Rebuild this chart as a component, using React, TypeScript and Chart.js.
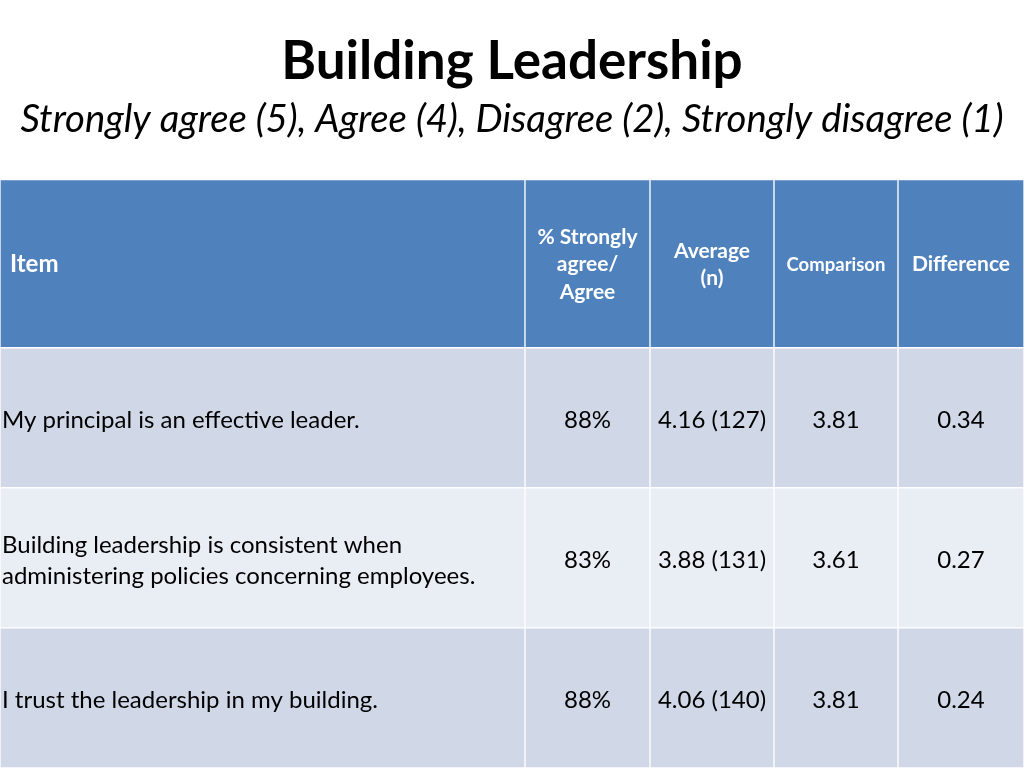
import React, { useEffect, useRef } from "react";
import { Chart, registerables } from "chart.js";

Chart.register(...registerables);

// ---- content ----
const titleText = "Building Leadership";
const subtitleText = "Strongly agree (5), Agree (4), Disagree (2), Strongly disagree (1)";
const headerLines: string[][] = [
  ["Item"],
  ["% Strongly", "agree/", "Agree"],
  ["Average", "(n)"],
  ["Comparison"],
  ["Difference"],
];
const items = [
  "My principal is an effective leader.",
  "Building leadership is consistent when administering policies concerning employees.",
  "I trust the leadership in my building.",
];
const pctAgree = [88, 83, 88];
const averages = [4.16, 3.88, 4.06];
const counts = [127, 131, 140];
const comparisons = [3.81, 3.61, 3.81];
const differences = [0.34, 0.27, 0.24];

// ---- layout (table geometry in scale units) ----
const colWidths = [525, 125, 124, 124, 126];
const headerHeight = 168;
const rowHeight = 140;

const FONT = "Lato";
const HEADER_BG = "#4F81BD";
const ROW_BG = ["#D0D8E8", "#E9EDF4", "#D0D8E8"];

const colEdges: number[] = [0];
colWidths.forEach((w, i) => colEdges.push(colEdges[i] + w));
const totalWidth = colEdges[colEdges.length - 1];
const totalHeight = headerHeight + rowHeight * items.length;
const headerCenter = headerHeight / 2;
const rowCenters = items.map((_, r) => headerHeight + rowHeight * r + rowHeight / 2);

function bodyTexts(r: number): string[] {
  return [
    items[r],
    `${pctAgree[r]}%`,
    `${averages[r].toFixed(2)} (${counts[r]})`,
    comparisons[r].toFixed(2),
    differences[r].toFixed(2),
  ];
}

function wrap(ctx: CanvasRenderingContext2D, text: string, maxW: number): string[] {
  const words = text.split(" ");
  const lines: string[] = [];
  let cur = "";
  for (const w of words) {
    const test = cur ? cur + " " + w : w;
    if (ctx.measureText(test).width > maxW && cur) {
      lines.push(cur);
      cur = w;
    } else cur = test;
  }
  if (cur) lines.push(cur);
  return lines;
}

const cellTextPlugin = {
  id: "cellText",
  afterDatasetsDraw(chart: any) {
    const ctx: CanvasRenderingContext2D = chart.ctx;
    ctx.save();
    ctx.textBaseline = "middle";
    // header
    const hMeta = chart.getDatasetMeta(0);
    hMeta.data.forEach((el: any, c: number) => {
      const { x, base, y } = el.getProps(["x", "base", "y"], true);
      const left = Math.min(x, base);
      const right = Math.max(x, base);
      const size = c === 0 ? 24 : c === 3 ? 18.5 : 21;
      ctx.font = `bold ${size}px ${FONT}`;
      ctx.fillStyle = "#FFFFFF";
      const lines = headerLines[c];
      const lh = 27.5;
      lines.forEach((line, i) => {
        const ly = y + 1 + (i - (lines.length - 1) / 2) * lh;
        if (c === 0) {
          ctx.textAlign = "left";
          ctx.fillText(line, left + 10, ly);
        } else {
          ctx.textAlign = "center";
          ctx.fillText(line, (left + right) / 2, ly);
        }
      });
    });
    // body
    const bMeta = chart.getDatasetMeta(1);
    bMeta.data.forEach((el: any, k: number) => {
      const r = Math.floor(k / colWidths.length);
      const c = k % colWidths.length;
      const { x, base, y } = el.getProps(["x", "base", "y"], true);
      const left = Math.min(x, base);
      const right = Math.max(x, base);
      ctx.font = `24px ${FONT}`;
      ctx.fillStyle = "#000000";
      const text = bodyTexts(r)[c];
      const cy = y + 2.5;
      if (c === 0) {
        ctx.textAlign = "left";
        const lines = wrap(ctx, text, right - left - 20);
        const lh = 31;
        lines.forEach((line, i) => {
          ctx.fillText(line, left + 2, cy + (i - (lines.length - 1) / 2) * lh);
        });
      } else {
        ctx.textAlign = "center";
        ctx.fillText(text, (left + right) / 2, cy);
      }
    });
    ctx.restore();
  },
};

export default function App() {
  const ref = useRef<HTMLCanvasElement>(null);
  useEffect(() => {
    if (!ref.current) return;
    const headerData = colWidths.map((_, c) => ({ x: [colEdges[c], colEdges[c + 1]], y: headerCenter }));
    const bodyData: any[] = [];
    const bodyColors: string[] = [];
    items.forEach((_, r) => {
      colWidths.forEach((__, c) => {
        bodyData.push({ x: [colEdges[c], colEdges[c + 1]], y: rowCenters[r] });
        bodyColors.push(ROW_BG[r % ROW_BG.length]);
      });
    });
    const chart = new Chart(ref.current, {
      type: "bar",
      data: {
        datasets: [
          {
            label: "header",
            data: headerData as any,
            backgroundColor: HEADER_BG,
            borderColor: "#FFFFFF",
            borderWidth: 1,
            borderSkipped: false,
            barThickness: headerHeight,
            stack: "table",
          } as any,
          {
            label: "body",
            data: bodyData,
            backgroundColor: bodyColors,
            borderColor: "#FFFFFF",
            borderWidth: 1,
            borderSkipped: false,
            barThickness: rowHeight,
            stack: "table",
          } as any,
        ],
      },
      options: {
        indexAxis: "y",
        animation: false,
        responsive: false,
        devicePixelRatio: 1,
        layout: { padding: 0 },
        scales: {
          x: { type: "linear", min: 0, max: totalWidth, display: false, stacked: false, offset: false },
          y: { type: "linear", min: 0, max: totalHeight, reverse: true, display: false, offset: false },
        },
        plugins: {
          legend: { display: false },
          tooltip: { enabled: false },
          title: {
            display: true,
            text: titleText,
            color: "#000000",
            font: { family: FONT, size: 53, weight: "bold" },
            padding: { top: 30, bottom: 3 },
          },
          subtitle: {
            display: true,
            text: subtitleText,
            color: "#000000",
            font: { family: FONT, size: 38.3, style: "italic" },
            padding: { top: 0, bottom: 37 },
          },
        },
      } as any,
      plugins: [cellTextPlugin],
    });
    return () => chart.destroy();
  }, []);
  return (
    <div style={{ position: "absolute", left: 0, top: 0, width: 1024, height: 768 }}>
      <canvas ref={ref} width={1024} height={768} />
    </div>
  );
}
